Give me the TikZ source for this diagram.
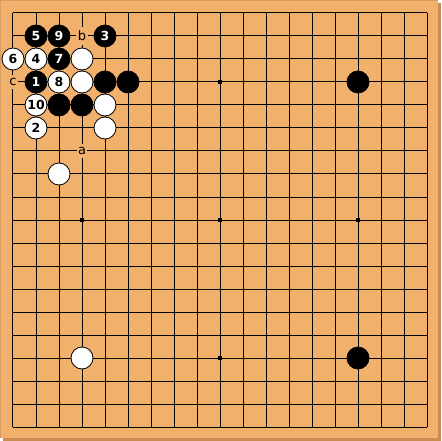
\documentclass[tikz,border=0pt]{standalone}
\usepackage{fontspec}
\setmainfont{DejaVu Sans}
\definecolor{board}{RGB}{242,176,109}
\definecolor{boardrim}{RGB}{214,156,96}
\definecolor{boardshadow}{RGB}{200,140,80}
\begin{document}
\begin{tikzpicture}[x=23pt,y=-23pt,
  gridline/.style={black,line width=1pt},
  bs/.style={circle,fill=black,draw=black,line width=0.8pt,minimum size=22pt,inner sep=0pt,text=white,font=\fontsize{12.5}{12.5}\selectfont\bfseries},
  ws/.style={circle,fill=white,draw=black,line width=0.8pt,minimum size=22pt,inner sep=0pt,text=black,font=\fontsize{12.5}{12.5}\selectfont\bfseries},
  lbl/.style={fill=board,inner xsep=1.5pt,inner ysep=3.5pt,font=\fontsize{13}{13}\selectfont},
  hoshi/.style={rectangle,fill=black,minimum size=4pt,inner sep=0pt}]
\useasboundingbox (-0.56522,-0.56522) rectangle (18.6087,18.6087);
% shadow
\fill[boardshadow] (-0.43478,18.4783) rectangle (18.6087,18.6087);
\fill[boardshadow] (18.4783,-0.43478) rectangle (18.6087,18.6087);
% board
\fill[board] (-0.56522,-0.56522) rectangle (18.4783,18.4783);
\draw[boardrim,line width=1pt] (-0.54348,18.4783) -- (-0.54348,-0.54348) -- (18.4783,-0.54348);
% grid
\foreach \i in {0,...,18} {
  \draw[gridline] (\i,0) -- (\i,18);
  \draw[gridline] (0,\i) -- (18,\i);
}
% hoshi
\foreach \x in {3,9,15} \foreach \y in {3,9,15} \node[hoshi] (h\x\y) at (\x,\y) {};
% black stones
\node[bs] (b5) at (1,1) {5};
\node[bs] (b9) at (2,1) {9};
\node[bs] (b3) at (4,1) {3};
\node[bs] (b7) at (2,2) {7};
\node[bs] (b1) at (1,3) {1};
\node[bs] (bA) at (4,3) {};
\node[bs] (bB) at (5,3) {};
\node[bs] (bC) at (2,4) {};
\node[bs] (bD) at (3,4) {};
\node[bs] (bE) at (15,3) {};
\node[bs] (bF) at (15,15) {};
% white stones
\node[ws] (w6) at (0,2) {6};
\node[ws] (w4) at (1,2) {4};
\node[ws] (wA) at (3,2) {};
\node[ws] (w8) at (2,3) {8};
\node[ws] (wB) at (3,3) {};
\node[ws] (w10) at (1,4) {10};
\node[ws] (wC) at (4,4) {};
\node[ws] (w2) at (1,5) {2};
\node[ws] (wD) at (4,5) {};
\node[ws] (wE) at (2,7) {};
\node[ws] (wF) at (3,15) {};
% letters
\node[lbl] (la) at (3,6) {a};
\node[lbl] (lb) at (3,1) {b};
\node[lbl] (lc) at (0,3) {c};
\end{tikzpicture}
\end{document}
